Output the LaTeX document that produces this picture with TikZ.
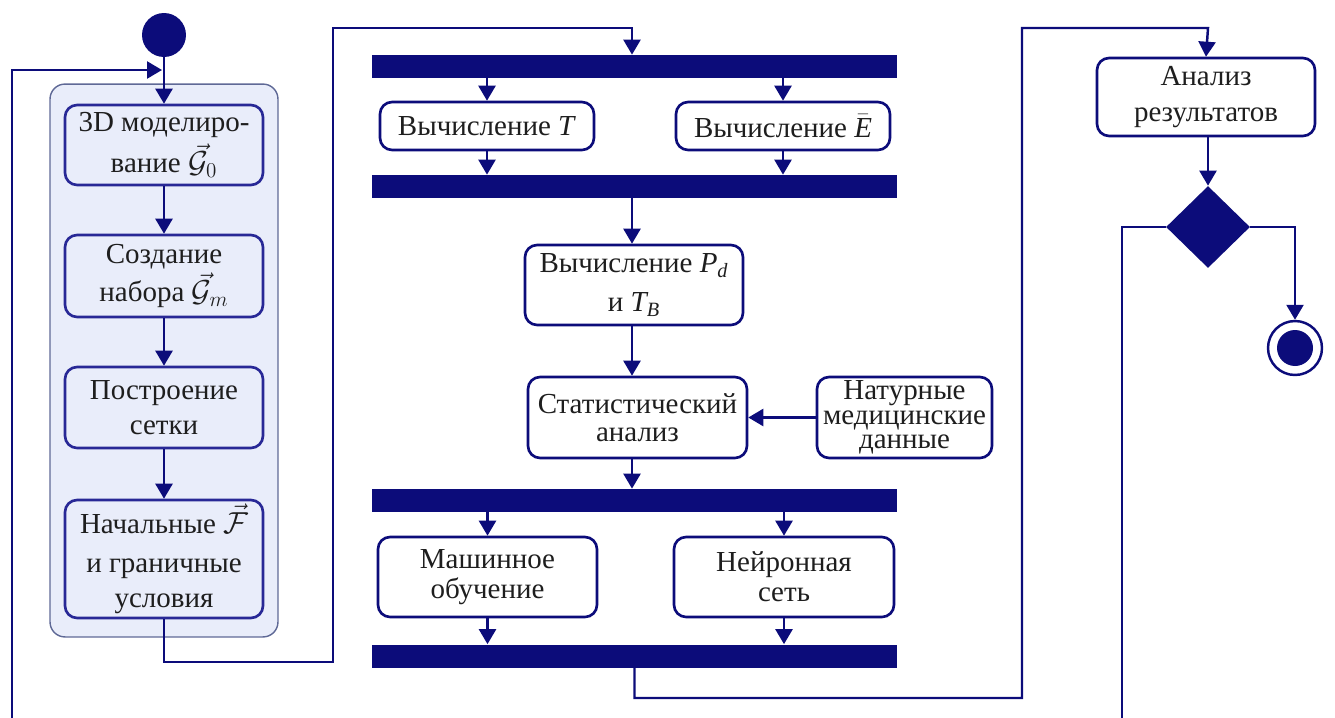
\documentclass[tikz,border=0pt]{standalone}
\usepackage{amsmath}
\usepackage{fontspec}
\setmainfont{Liberation Serif}
\newfontfamily\boxfont{Liberation Serif}
\usetikzlibrary{shapes.geometric,arrows.meta}

\definecolor{navy}{RGB}{12,12,122}
\definecolor{lanefill}{RGB}{233,237,250}
\definecolor{laneedge}{RGB}{95,105,150}
\definecolor{innerblue}{RGB}{40,40,150}
\definecolor{ink}{RGB}{30,30,30}

\tikzset{
  x=0.02cm, y=-0.02cm,
  every node/.style={text=ink, font=\boxfont\fontsize{16.5}{20}\selectfont, align=center, inner sep=0pt},
  act/.style={draw=navy, fill=white, line width=1.5pt, rounded corners=0.24cm},
  inact/.style={draw=innerblue, line width=1.5pt, rounded corners=0.24cm},
  forkbar/.style={fill=navy, draw=none, minimum width=10.5cm, minimum height=0.46cm},
  arr/.style={draw=navy, line width=1.4pt, -{Triangle[width=0.34cm,length=0.3cm]}},
}

\begin{document}
\begin{tikzpicture}
\useasboundingbox (0,0) rectangle (1335,717);
\clip (0,0) rectangle (1335,717);

% swimlane of preparation steps
\node[draw=laneedge, fill=lanefill, line width=0.8pt, rounded corners=0.3cm,
      minimum width=4.56cm, minimum height=11.06cm] (lane) at (164,360.5) {};

\node[circle, fill=navy, minimum size=0.88cm] (start) at (164,35) {};

\node[inact, minimum width=3.96cm, minimum height=1.6cm] (b1) at (164,145)
  {3D моделиро-\\[2pt]вание $\vec{\mathcal{G}}_{0}$};
\node[inact, minimum width=3.96cm, minimum height=1.64cm] (b2) at (164,276)
  {Создание\\[2pt]набора $\vec{\mathcal{G}}_{m}$};
\node[inact, minimum width=3.96cm, minimum height=1.62cm] (b3) at (164,407.5)
  {Построение\\сетки};
\node[inact, minimum width=3.96cm, minimum height=2.36cm] (b4) at (164,559)
  {Начальные $\vec{\mathcal{F}}$\\[2pt]и граничные\\условия};

% central column
\node[forkbar] (bar1) at (634.5,66.5) {};
\node[act, minimum width=4.28cm, minimum height=0.96cm] (ct) at (487,126) {Вычисление \textit{T}};
\node[act, minimum width=4.28cm, minimum height=0.96cm] (ce) at (783,126) {Вычисление $\bar{\textit{E}}$};
\node[forkbar] (bar2) at (634.5,186.5) {};
\node[act, minimum width=4.36cm, minimum height=1.6cm, font=\boxfont\fontsize{16.5}{22}\selectfont] (pd) at (634,285)
  {Вычисление $\textit{P}_{\textit{d}}$\\и $\textit{T}_{\textit{B}}$};
\node[act, minimum width=4.38cm, minimum height=1.62cm, font=\boxfont\fontsize{16.5}{16}\selectfont] (st) at (637.5,417.5)
  {Статистический\\анализ};
\node[act, minimum width=3.5cm, minimum height=1.62cm, font=\boxfont\fontsize{16.5}{14}\selectfont] (nat) at (904.5,417.5)
  {Натурные\\медицинские\\данные};
\node[forkbar] (bar3) at (634.5,500.5) {};
\node[act, minimum width=4.38cm, minimum height=1.6cm, font=\boxfont\fontsize{16.5}{17}\selectfont] (ml) at (487.5,577)
  {Машинное\\обучение};
\node[act, minimum width=4.4cm, minimum height=1.6cm, font=\boxfont\fontsize{16.5}{17}\selectfont] (nn) at (784,577)
  {Нейронная\\сеть};
\node[forkbar] (bar4) at (634.5,656) {};

% right column
\node[act, minimum width=4.36cm, minimum height=1.56cm] (an) at (1206,97) {Анализ\\результатов};
\node[diamond, fill=navy, minimum width=1.68cm, minimum height=1.64cm] (dec) at (1208,227) {};
\node[circle, draw=navy, fill=white, line width=1.4pt, minimum size=1.08cm,
      path picture={\fill[navy] (path picture bounding box.center) circle (0.36cm);}] (fin) at (1295,348) {};

% routing points
\coordinate (j1) at (333,662);
\coordinate (j2) at (632,28);
\coordinate (j3) at (1022,698);
\coordinate (j4) at (1208,28);
\coordinate (j5) at (1122,760);
\coordinate (j6) at (12,70);
\coordinate (merge) at (162,70);

% connectors
\draw[arr] (start) -- (b1);
\draw[arr] (b1) -- (b2);
\draw[arr] (b2) -- (b3);
\draw[arr] (b3) -- (b4);
\draw[arr] (b4.south) |- (j1) |- (j2) -- (j2 |- bar1.north);

\draw[arr] (ct.north |- bar1.south) -- (ct.north);
\draw[arr] (ce.north |- bar1.south) -- (ce.north);
\draw[arr] (ct.south) -- (ct.south |- bar2.north);
\draw[arr] (ce.south) -- (ce.south |- bar2.north);
\draw[arr] (j2 |- bar2.south) -- (j2 |- pd.north);
\draw[arr] (j2 |- pd.south) -- (j2 |- st.north);
\draw[arr] (nat.west) -- (st.east);
\draw[arr] (j2 |- st.south) -- (j2 |- bar3.north);
\draw[arr] (ml.north |- bar3.south) -- (ml.north);
\draw[arr] (nn.north |- bar3.south) -- (nn.north);
\draw[arr] (ml.south) -- (ml.south |- bar4.north);
\draw[arr] (nn.south) -- (nn.south |- bar4.north);

\draw[arr] (bar4.south) |- (j3) |- (j4) -- (an.north);
\draw[arr] (an.south -| dec) -- (dec);
\draw[arr] (dec.east) -| (fin.north);
\draw[arr] (dec.west) -| (j5) -| (j6) -- (merge);
\end{tikzpicture}
\end{document}
